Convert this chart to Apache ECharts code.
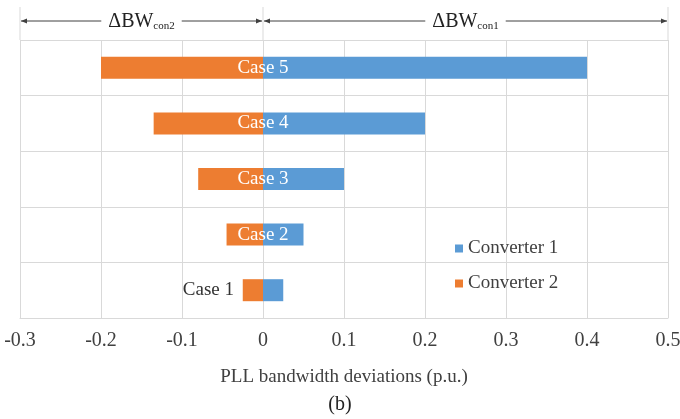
<!DOCTYPE html>
<html>
<head>
<meta charset="utf-8">
<script src="https://cdn.jsdelivr.net/npm/echarts@6/dist/echarts.min.js"></script>
<style>html,body{margin:0;padding:0;background:#fff;}#c{width:680px;height:419px;}</style>
</head>
<body>
<div id="c"></div>
<script>
const categories = ['Case 1', 'Case 2', 'Case 3', 'Case 4', 'Case 5'];
const converter1 = [0.025, 0.05, 0.1, 0.2, 0.4];
const converter2 = [-0.025, -0.045, -0.08, -0.135, -0.2];
const xMin = -0.3, xMax = 0.5, xInterval = 0.1;
const spanLabels = [['ΔBW', 'con2'], ['ΔBW', 'con1']];

const FONT = 'Liberation Serif';
const TXT = '#404040';
const GRID = '#D9D9D9';
const chart = echarts.init(document.getElementById('c'), null, {renderer: 'canvas'});

chart.setOption({
  animation: false,
  textStyle: {fontFamily: FONT},
  grid: {left: 20, right: 12, top: 40, bottom: 101, containLabel: false, outerBoundsMode: 'none'},
  legend: {
    data: ['Converter 1', 'Converter 2'],
    orient: 'vertical', left: 450, top: 234,
    icon: 'rect', itemWidth: 8, itemHeight: 8, itemGap: 16,
    textStyle: {fontFamily: FONT, fontSize: 19, color: TXT}
  },
  title: {
    text: '(b)', left: 'center', bottom: 4, padding: 0,
    textStyle: {fontFamily: FONT, fontSize: 20, fontWeight: 'normal', color: '#222'}
  },
  xAxis: {
    type: 'value', min: xMin, max: xMax, interval: xInterval,
    axisLine: {show: true, onZero: false, lineStyle: {color: GRID}},
    axisTick: {show: false},
    splitLine: {show: true, lineStyle: {color: GRID}},
    axisLabel: {
      margin: 13, fontFamily: FONT, fontSize: 20, color: TXT,
      formatter: v => String(Math.round(v * 10) / 10)
    },
    name: 'PLL bandwidth deviations (p.u.)', nameLocation: 'middle', nameGap: 50,
    nameTextStyle: {fontFamily: FONT, fontSize: 19, color: TXT}
  },
  yAxis: {
    type: 'category', data: categories,
    axisLine: {show: false}, axisTick: {show: false}, axisLabel: {show: false},
    splitLine: {show: true, lineStyle: {color: GRID}}
  },
  series: [
    {name: 'Converter 1', type: 'bar', data: converter1, barWidth: 22, barGap: '-100%',
     itemStyle: {color: '#5B9BD5'}},
    {name: 'Converter 2', type: 'bar', data: converter2, barWidth: 22, barGap: '-100%',
     itemStyle: {color: '#ED7D31'}},
    {name: 'labels', type: 'scatter', symbolSize: 0, silent: true, z: 5,
     itemStyle: {opacity: 1},
     data: categories.map((c, i) => ({
       value: [0, c],
       label: i === 0 ? {position: 'left', distance: 29, color: '#333'} : {position: 'inside', color: '#fff'}
     })),
     label: {show: true, formatter: p => p.value[1], fontFamily: FONT, fontSize: 19, opacity: 1}}
  ]
});

const px = v => chart.convertToPixel({xAxisIndex: 0}, v);
const xl = px(xMin), x0 = px(0), xr = px(xMax);
const yTop = 7, yBot = 40, yA = 21;
const AC = '#404040';
const g = [];
[xl, x0, xr].forEach(x => g.push({type: 'line', shape: {x1: x, y1: yTop, x2: x, y2: yBot}, style: {stroke: GRID, lineWidth: 1}}));
function arrow(a, b, lab) {
  g.push({type: 'line', shape: {x1: a + 1, y1: yA, x2: b - 1, y2: yA}, style: {stroke: AC, lineWidth: 1}});
  g.push({type: 'polygon', shape: {points: [[a + 1, yA], [a + 7, yA - 2.5], [a + 7, yA + 2.5]]}, style: {fill: AC}});
  g.push({type: 'polygon', shape: {points: [[b - 1, yA], [b - 7, yA - 2.5], [b - 7, yA + 2.5]]}, style: {fill: AC}});
  g.push({type: 'text', x: (a + b) / 2, y: yA + 1, z: 10,
    style: {
      text: '{a|' + lab[0] + '}{b|' + lab[1] + '}',
      align: 'center', verticalAlign: 'middle',
      backgroundColor: '#fff', padding: [0, 7],
      rich: {
        a: {fontFamily: FONT, fontSize: 20, fill: '#222', color: '#222'},
        b: {fontFamily: FONT, fontSize: 11, fill: '#222', color: '#222', padding: [9, 0, 0, 0]}
      }
    }});
}
arrow(xl, x0, spanLabels[0]);
arrow(x0, xr, spanLabels[1]);
chart.setOption({graphic: g});
</script>
</body>
</html>
